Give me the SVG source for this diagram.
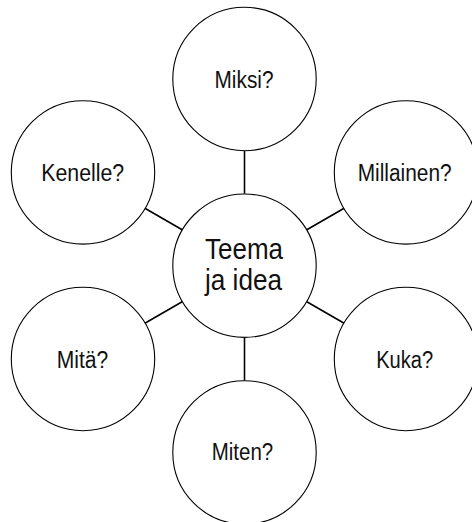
<svg xmlns="http://www.w3.org/2000/svg" width="472" height="522" viewBox="0 0 472 522">
<style>
.n{fill:#fff;stroke:#000;stroke-width:1.1}
.t{font-family:"Liberation Sans",Arial,sans-serif;font-size:23px;fill:#111;text-anchor:middle}
.c{font-size:29.5px}
.e{stroke:#000;stroke-width:1.6;fill:none}
</style>
<rect width="472" height="522" fill="#fff"/>
<g id="connectors">
<line class="e" x1="244.5" y1="193.7" x2="244.5" y2="150.7"/>
<line class="e" x1="306.85" y1="229.7" x2="344.1" y2="208.2"/>
<line class="e" x1="306.85" y1="301.7" x2="344.1" y2="323.2"/>
<line class="e" x1="244.5" y1="337.7" x2="244.5" y2="380.7"/>
<line class="e" x1="182.15" y1="301.7" x2="144.9" y2="323.2"/>
<line class="e" x1="182.15" y1="229.7" x2="144.9" y2="208.2"/>
</g>
<g id="center">
<circle class="n" cx="244.5" cy="265.7" r="71.7"/>
<text class="t c" x="244" y="259" textLength="78" lengthAdjust="spacingAndGlyphs">Teema</text>
<text class="t c" x="243.5" y="290" textLength="77" lengthAdjust="spacingAndGlyphs">ja idea</text>
</g>
<g id="miksi">
<circle class="n" cx="244.5" cy="79" r="71.7"/>
<text class="t" x="244" y="88" textLength="59" lengthAdjust="spacingAndGlyphs">Miksi?</text>
</g>
<g id="millainen">
<circle class="n" cx="406" cy="172.4" r="71.7"/>
<text class="t" x="404.7" y="181" textLength="94" lengthAdjust="spacingAndGlyphs">Millainen?</text>
</g>
<g id="kuka">
<circle class="n" cx="406" cy="359" r="71.7"/>
<text class="t" x="404.7" y="367.5" textLength="57" lengthAdjust="spacingAndGlyphs">Kuka?</text>
</g>
<g id="miten">
<circle class="n" cx="244.5" cy="452.4" r="71.7"/>
<text class="t" x="242.5" y="460" textLength="61.5" lengthAdjust="spacingAndGlyphs">Miten?</text>
</g>
<g id="mita">
<circle class="n" cx="83" cy="359" r="71.7"/>
<text class="t" x="82.5" y="367.5" textLength="51.5" lengthAdjust="spacingAndGlyphs">Mitä?</text>
</g>
<g id="kenelle">
<circle class="n" cx="83" cy="172.4" r="71.7"/>
<text class="t" x="82.7" y="181" textLength="83" lengthAdjust="spacingAndGlyphs">Kenelle?</text>
</g>
</svg>
